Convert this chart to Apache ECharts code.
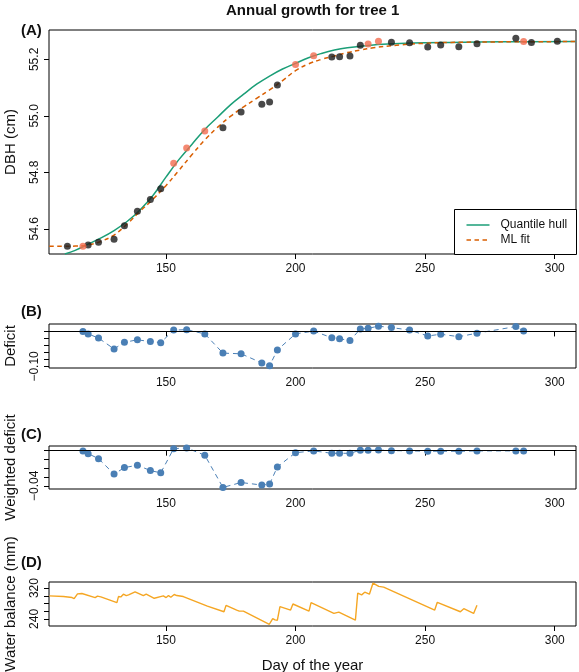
<!DOCTYPE html>
<html><head><meta charset="utf-8">
<script src="https://cdn.jsdelivr.net/npm/echarts@6/dist/echarts.min.js"></script>
<style>html,body{margin:0;padding:0;background:#fff}#c{width:579px;height:672px}</style>
</head><body><div id="c"></div>
<script>
// ---------- Panel A: DBH ----------
const dbhBlackDays = [112,120,124,130,134,139,144,148,172,179,187,190,193,214,217,221,225,237,244,251,256,263,270,285,291,301];
const dbhBlack = [54.538,54.543,54.553,54.563,54.611,54.662,54.704,54.742,54.958,55.014,55.041,55.049,55.109,55.208,55.209,55.212,55.250,55.261,55.259,55.244,55.251,55.245,55.255,55.275,55.260,55.264];
const dbhOrangeDays = [118,153,158,165,200,207,228,232,288];
const dbhOrange = [54.538,54.832,54.886,54.946,55.182,55.213,55.254,55.264,55.263];

const hullDays = [111,115,120,125,130,135,140,145,150,155,160,165,170,175,180,185,190,195,200,205,210,215,220,230,240,250,260,280,308];
const hullVals = [54.511,54.524,54.546,54.568,54.594,54.626,54.667,54.718,54.783,54.845,54.899,54.952,54.996,55.040,55.077,55.112,55.141,55.166,55.186,55.206,55.221,55.233,55.241,55.251,55.256,55.259,55.260,55.262,55.263];
const mlDays = [105,110,115,120,125,130,135,140,145,150,155,160,165,170,175,180,185,190,195,200,205,210,215,220,225,230,240,250,260,280,308];
const mlVals = [54.538,54.538,54.539,54.543,54.556,54.578,54.617,54.662,54.705,54.753,54.807,54.862,54.915,54.960,54.999,55.032,55.062,55.092,55.125,55.160,55.184,55.200,55.212,55.224,55.233,55.241,55.251,55.257,55.260,55.262,55.263];

// ---------- Panels B, C: deficits ----------
const defDays = [118,120,124,130,134,139,144,148,153,158,165,172,179,187,190,193,200,207,214,217,221,225,228,232,237,244,251,256,263,270,285,288];
const deficit = [0.000,-0.007,-0.019,-0.050,-0.031,-0.024,-0.029,-0.032,0.004,0.005,-0.007,-0.062,-0.064,-0.090,-0.098,-0.053,-0.007,0.001,-0.018,-0.021,-0.026,0.007,0.009,0.015,0.011,0.004,-0.013,-0.008,-0.015,-0.005,0.014,0.001];
const wDeficit = [-0.0003,-0.0034,-0.0091,-0.0267,-0.0193,-0.0166,-0.0227,-0.0253,0.0023,0.0031,-0.0052,-0.0419,-0.0363,-0.0392,-0.0381,-0.0185,-0.0023,-0.0003,-0.0030,-0.0030,-0.0030,0.0005,0.0005,0.0008,0.0000,-0.0003,-0.0007,-0.0007,-0.0007,-0.0003,-0.0003,-0.0003];

// ---------- Panel D: water balance ----------
const wbDays = [105.0,110.5,113.8,114.6,115.9,117.6,122.7,123.6,124.9,131.1,131.7,132.6,133.6,134.7,135.6,138.1,141.3,142.4,145.5,149.0,150.1,151.0,151.9,153.2,154.2,154.8,156.7,166.0,172.4,173.2,177.3,178.3,179.9,189.9,191.2,192.1,193.0,194.0,198.1,199.0,205.2,206.0,214.8,216.7,223.1,224.0,225.5,226.7,228.5,229.9,232.1,234.0,253.7,254.7,263.6,264.9,268.7,270.0];
const wbVals = [299.8,298.0,295.4,292.8,305.0,305.9,295.4,299.0,297.1,282.2,298.0,297.1,304.2,300.6,302.4,310.3,300.6,304.2,293.6,299.8,295.4,300.6,296.3,303.3,300.6,302.4,298.0,273.0,258.6,275.2,262.9,260.3,260.3,226.1,241.0,237.5,236.6,271.7,262.9,278.7,260.3,282.2,254.2,257.7,236.6,306.8,302.4,309.4,304.2,333.1,324.3,322.6,262.9,283.1,258.6,266.5,254.2,275.2];

// ---------- Ticks ----------
const xTicks = [150,200,250,300];
const aTicks = [54.6,54.8,55.0,55.2];
const bTicks = [0,-0.02,-0.04,-0.06,-0.08,-0.10];
const bLabels = [-0.10];
const cTicks = [0,-0.01,-0.02,-0.03,-0.04];
const cLabels = [-0.04];
const dTicks = [240,260,280,300,320];
const dLabels = [240,320];

const FF = '"Liberation Sans", Arial, Helvetica, sans-serif';
const TXT = '#111';
const zip = (a,b) => a.map((v,i)=>[v,b[i]]);
const minus = s => String(s).replace('-', '\u2212');

const grids = [
  {left:49, right:3, top:30, height:224},
  {left:49, right:3, top:324, height:44},
  {left:49, right:3, top:446, height:43},
  {left:49, right:3, top:582, height:44}
].map(g => Object.assign(g, {show:true, borderColor:'#000', borderWidth:1, backgroundColor:'transparent', containLabel:false, outerBoundsMode:'none'}));

function xAx(i, name){
  return {type:'value', gridIndex:i, min:104.9, max:308.2,
    axisLine:{show:false}, splitLine:{show:false},
    axisTick:{show:true, length:5, lineStyle:{color:'#000'}, customValues:xTicks},
    axisLabel:{customValues:xTicks, margin:9, fontSize:12, color:TXT, fontFamily:FF},
    name: name || '', nameLocation:'middle', nameGap:32,
    nameTextStyle:{fontSize:15, color:TXT, fontFamily:FF}};
}
function yAx(i, min, max, ticks, labels, fmt, name){
  return {type:'value', gridIndex:i, min:min, max:max,
    axisLine:{show:false}, splitLine:{show:false},
    axisTick:{show:true, length:5, lineStyle:{color:'#000'}, customValues:ticks},
    axisLabel:{customValues:labels, rotate:90, margin:8, fontSize:12, color:TXT, fontFamily:FF, formatter:fmt},
    name:name, nameLocation:'middle', nameRotate:90, nameGap:31,
    nameTextStyle:{fontSize:15, color:TXT, fontFamily:FF}};
}

const zeroLine = {silent:true, symbol:['none','none'], label:{show:false},
  lineStyle:{color:'#000', type:'solid', width:1}, data:[{yAxis:0}]};

const chart = echarts.init(document.getElementById('c'), null, {renderer:'canvas'});
chart.setOption({
  animation:false,
  grid: grids,
  xAxis: [xAx(0), xAx(1), xAx(2), xAx(3, 'Day of the year')],
  yAxis: [
    yAx(0, 54.511, 55.304, aTicks, aTicks, v => Number(v).toFixed(1), 'DBH (cm)'),
    yAx(1, -0.1046, 0.0213, bTicks, bLabels, v => minus(Number(v).toFixed(2)), 'Deficit'),
    yAx(2, -0.0437, 0.0053, cTicks, cLabels, v => minus(Number(v).toFixed(2)), 'Weighted deficit'),
    yAx(3, 221.6, 335.8, dTicks, dLabels, v => String(v), 'Water balance (mm)')
  ],
  series: [
    {type:'line', name:'Quantile hull', xAxisIndex:0, yAxisIndex:0, data:zip(hullDays,hullVals),
      smooth:0.4, symbol:'none', lineStyle:{color:'#1B9E77', width:1.5}, z:2},
    {type:'line', name:'ML fit', xAxisIndex:0, yAxisIndex:0, data:zip(mlDays,mlVals),
      smooth:0.4, symbol:'none', lineStyle:{color:'#D95F02', width:1.5, type:[4.5,3.5]}, z:2},
    {type:'scatter', xAxisIndex:0, yAxisIndex:0, data:zip(dbhBlackDays,dbhBlack),
      symbol:'circle', symbolSize:7, itemStyle:{color:'#1c1c1c'}, z:3},
    {type:'scatter', xAxisIndex:0, yAxisIndex:0, data:zip(dbhOrangeDays,dbhOrange),
      symbol:'circle', symbolSize:7, itemStyle:{color:'#F26B4F'}, z:3},
    {type:'line', xAxisIndex:1, yAxisIndex:1, data:zip(defDays,deficit),
      symbol:'circle', symbolSize:7, showAllSymbol:true, itemStyle:{color:'#4A7FB5'},
      lineStyle:{color:'#4A7FB5', width:1, type:[5,4]}, markLine:zeroLine},
    {type:'line', xAxisIndex:2, yAxisIndex:2, data:zip(defDays,wDeficit),
      symbol:'circle', symbolSize:7, showAllSymbol:true, itemStyle:{color:'#4A7FB5'},
      lineStyle:{color:'#4A7FB5', width:1, type:[5,4]}, markLine:zeroLine},
    {type:'line', xAxisIndex:3, yAxisIndex:3, data:zip(wbDays,wbVals),
      symbol:'none', lineStyle:{color:'#F5A623', width:1.4}}
  ],
  graphic: [
    {type:'text', left:226, top:3, style:{text:'Annual growth for tree 1', font:'bold 15px '+FF, fill:TXT}},
    {type:'text', left:21, top:23, style:{text:'(A)', font:'bold 15px '+FF, fill:TXT}},
    {type:'text', left:21, top:304, style:{text:'(B)', font:'bold 15px '+FF, fill:TXT}},
    {type:'text', left:21, top:427, style:{text:'(C)', font:'bold 15px '+FF, fill:TXT}},
    {type:'text', left:21, top:555, style:{text:'(D)', font:'bold 15px '+FF, fill:TXT}},
    {type:'group', left:454, top:209, z:100, children:[
      {type:'rect', shape:{x:0,y:0,width:122,height:45}, style:{fill:'#fff', stroke:'#000', lineWidth:1}},
      {type:'line', shape:{x1:12,y1:15.5,x2:35,y2:15.5}, style:{stroke:'#1B9E77', lineWidth:1.5}},
      {type:'line', shape:{x1:12,y1:30.5,x2:35,y2:30.5}, style:{stroke:'#D95F02', lineWidth:1.5, lineDash:[4.5,3.5]}},
      {type:'text', x:46, y:15.5, style:{text:'Quantile hull', font:'12px '+FF, fill:TXT, verticalAlign:'middle'}},
      {type:'text', x:46, y:30.5, style:{text:'ML fit', font:'12px '+FF, fill:TXT, verticalAlign:'middle'}}
    ]}
  ]
});
</script></body></html>
